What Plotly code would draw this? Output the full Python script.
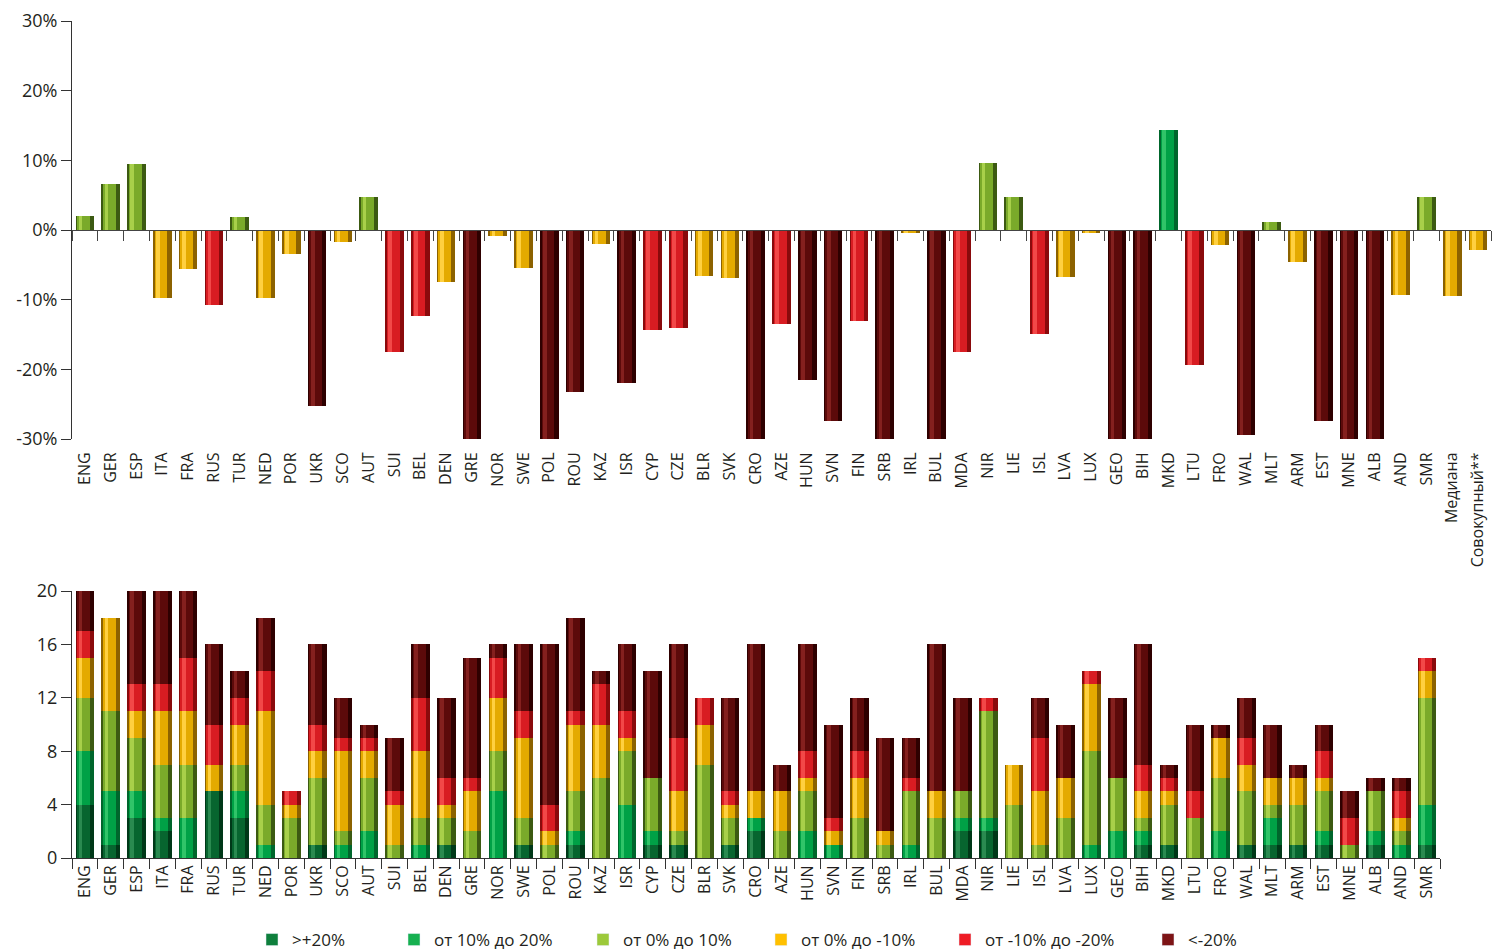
import plotly.graph_objects as go

# ---------------- data ----------------
top_labels = ["ENG", "GER", "ESP", "ITA", "FRA", "RUS", "TUR", "NED", "POR", "UKR", "SCO", "AUT",
              "SUI", "BEL", "DEN", "GRE", "NOR", "SWE", "POL", "ROU", "KAZ", "ISR", "CYP", "CZE",
              "BLR", "SVK", "CRO", "AZE", "HUN", "SVN", "FIN", "SRB", "IRL", "BUL", "MDA", "NIR",
              "LIE", "ISL", "LVA", "LUX", "GEO", "BIH", "MKD", "LTU", "FRO", "WAL", "MLT", "ARM",
              "EST", "MNE", "ALB", "AND", "SMR", "Медиана", "Совокупный**"]
top_values = [2.0, 6.6, 9.5, -9.7, -5.6, -10.7, 1.8, -9.8, -3.4, -25.3, -1.7, 4.7,
              -17.5, -12.4, -7.5, -30.0, -0.9, -5.5, -30.0, -23.2, -2.0, -22.0, -14.3, -14.1,
              -6.6, -6.9, -30.0, -13.5, -21.6, -27.4, -13.0, -30.0, -0.5, -30.0, -17.5, 9.6,
              4.8, -14.9, -6.8, -0.5, -30.0, -30.0, 14.4, -19.4, -2.1, -29.4, 1.1, -4.6,
              -27.4, -30.0, -30.0, -9.3, 4.8, -9.5, -2.9]
top_ticks = [-30, -20, -10, 0, 10, 20, 30]
top_tick_text = ["-30%", "-20%", "-10%", "0%", "10%", "20%", "30%"]

countries = top_labels[:53]
cat_names = [">+20%", "от 10% до 20%", "от 0% до 10%", "от 0% до -10%", "от -10% до -20%", "<-20%"]
cnt_gt20 = [4, 1, 3, 2, 0, 5, 3, 0, 0, 1, 0, 0, 0, 0, 1, 0, 0, 1, 0, 1, 0, 0, 1, 1,
            0, 1, 2, 0, 0, 0, 0, 0, 0, 0, 2, 2, 0, 0, 0, 0, 0, 1, 1, 0, 0, 1, 1, 1,
            1, 0, 1, 0, 1]
cnt_10_20 = [4, 4, 2, 1, 3, 0, 2, 1, 0, 0, 1, 2, 0, 1, 0, 0, 5, 0, 0, 1, 0, 4, 1, 0,
             0, 0, 1, 0, 2, 1, 0, 0, 1, 0, 1, 1, 0, 0, 0, 1, 2, 1, 0, 0, 2, 0, 2, 0,
             1, 0, 1, 1, 3]
cnt_0_10 = [4, 6, 4, 4, 4, 0, 2, 3, 3, 5, 1, 4, 1, 2, 2, 2, 3, 2, 1, 3, 6, 4, 4, 1,
            7, 2, 0, 2, 3, 0, 3, 1, 4, 3, 2, 8, 4, 1, 3, 7, 4, 1, 3, 3, 4, 4, 1, 3,
            3, 1, 3, 1, 8]
cnt_0_m10 = [3, 7, 2, 4, 4, 2, 3, 7, 1, 2, 6, 2, 3, 5, 1, 3, 4, 6, 1, 5, 4, 1, 0, 3,
             3, 1, 2, 3, 1, 1, 3, 1, 0, 2, 0, 0, 3, 4, 3, 5, 0, 2, 1, 0, 3, 2, 2, 2,
             1, 0, 0, 1, 2]
cnt_m10_m20 = [2, 0, 2, 2, 4, 3, 2, 3, 1, 2, 1, 1, 1, 4, 2, 1, 3, 2, 2, 1, 3, 2, 0, 4,
               2, 1, 0, 0, 2, 1, 2, 0, 1, 0, 0, 1, 0, 4, 0, 1, 0, 2, 1, 2, 0, 2, 0, 0,
               2, 2, 0, 2, 1]
cnt_lt20 = [3, 0, 7, 7, 5, 6, 2, 4, 0, 6, 3, 1, 4, 4, 6, 9, 1, 5, 12, 7, 1, 5, 8, 7,
            0, 7, 11, 2, 8, 7, 4, 7, 3, 11, 7, 0, 0, 3, 4, 0, 6, 9, 1, 5, 1, 3, 4, 1,
            2, 2, 1, 1, 0]
counts = [cnt_gt20, cnt_10_20, cnt_0_10, cnt_0_m10, cnt_m10_m20, cnt_lt20]
bottom_ticks = [0, 4, 8, 12, 16, 20]

# ---------------- styles ----------------
legend_colors = ["#0e7f3c", "#16b050", "#9cc93a", "#ffc000", "#ee1c25", "#7d1416"]
edge_colors = ["#003818", "#00662c", "#3c5a12", "#8c6200", "#8a0a0c", "#2e0000"]
mid_colors = ["#07652f", "#00a146", "#7aaa2a", "#e4aa00", "#d81c22", "#5c0a0a"]
hi_colors = ["#2a8a50", "#30c468", "#a8d04a", "#ffd040", "#f24848", "#84201e"]
FONT = "Open Sans"
TXT = "#231f20"


def cat_of(v):
    if v > 20:
        return 0
    if v > 10:
        return 1
    if v > 0:
        return 2
    if v >= -10:
        return 3
    if v >= -20:
        return 4
    return 5


fig = go.Figure()

# cylinder-ish layered bars
layers = [(0.72, -0.36, edge_colors), (0.50, -0.30, mid_colors), (0.14, -0.24, hi_colors)]


def add_cyl(x, y, base, cols_idx, xa, ya):
    for w, off, pal in layers:
        fig.add_trace(go.Bar(
            x=x, y=y, base=base, width=w, offset=off,
            marker=dict(color=[pal[c] for c in cols_idx], line=dict(width=0)),
            xaxis=xa, yaxis=ya, showlegend=False, hoverinfo="skip"))


# top chart
top_cats = [cat_of(v) for v in top_values]
add_cyl(top_labels, top_values, None, top_cats, "x", "y")

# invisible trace to carry the zero-line boundary-tick axis
fig.add_trace(go.Scatter(x=[0], y=[0], xaxis="x3", yaxis="y", mode="markers",
                         marker=dict(opacity=0), showlegend=False, hoverinfo="skip"))

# bottom stacked chart
running = [0] * len(countries)
for k, cnt in enumerate(counts):
    add_cyl(countries, cnt, list(running), [k] * len(countries), "x2", "y2")
    running = [a + b for a, b in zip(running, cnt)]

# legend entries
legend_x_px = [252, 394, 583, 761, 945, 1148]
for k, name in enumerate(cat_names):
    lid = "legend" if k == 0 else f"legend{k + 1}"
    fig.add_trace(go.Bar(x=[None], y=[None], name=name, marker_color=legend_colors[k],
                         xaxis="x2", yaxis="y2", showlegend=True, legend=lid))

W, H = 1493, 950


def fx(px):
    return px / W


def fy(py):
    return 1 - py / H


x0, x1_top, x1_bot = fx(72), fx(1491), fx(1440)
top_dom = [fy(439), fy(21)]
bot_dom = [fy(858), fy(591)]

tickfont = dict(family=FONT, size=16, color=TXT)
ytickfont = dict(family=FONT, size=18, color=TXT)
n_top = len(top_labels)

layout = dict(
    width=W, height=H, margin=dict(l=0, r=0, t=0, b=0, autoexpand=False),
    paper_bgcolor="white", plot_bgcolor="white",
    barmode="overlay", bargap=0,
    xaxis=dict(domain=[x0, x1_top], anchor="y", type="category", automargin=False,
               categoryorder="array", categoryarray=top_labels,
               tickangle=-90, tickfont=tickfont, showline=False, showgrid=False,
               ticks="outside", ticklen=6, tickcolor="rgba(0,0,0,0)", zeroline=False),
    xaxis3=dict(overlaying="x", anchor="free", position=(top_dom[0] + top_dom[1]) / 2,
                range=[-0.5, n_top - 0.5], tickmode="array", automargin=False,
                tickvals=[i - 0.5 for i in range(n_top + 1)],
                ticks="outside", ticklen=10, tickcolor="#444", tickwidth=1,
                showline=True, linecolor="#444", linewidth=1,
                showticklabels=False, showgrid=False, zeroline=False),
    yaxis=dict(domain=top_dom, anchor="x", range=[-30, 30], tickmode="array", automargin=False,
               tickvals=top_ticks, ticktext=top_tick_text,
               tickfont=ytickfont, showline=True, linecolor="#333", linewidth=1,
               ticks="outside", ticklen=10, tickcolor="#333", showgrid=False, zeroline=False),
    xaxis2=dict(domain=[x0, x1_bot], anchor="y2", type="category", automargin=False,
                categoryorder="array", categoryarray=countries,
                tickangle=-90, tickfont=tickfont, tickson="boundaries",
                ticks="outside", ticklen=10, tickcolor="#333",
                showline=True, linecolor="#333", linewidth=1, showgrid=False, zeroline=False),
    yaxis2=dict(domain=bot_dom, anchor="x2", range=[0, 20], tickmode="array", automargin=False,
                tickvals=bottom_ticks, ticktext=[str(t) for t in bottom_ticks],
                tickfont=ytickfont,
                showline=True, linecolor="#333", linewidth=1,
                ticks="outside", ticklen=10, tickcolor="#333", showgrid=False, zeroline=False),
)
for k in range(6):
    lid = "legend" if k == 0 else f"legend{k + 1}"
    layout[lid] = dict(x=fx(legend_x_px[k]), y=fy(940), xanchor="left", yanchor="middle",
                       xref="container", yref="container",
                       orientation="h", bgcolor="rgba(0,0,0,0)", borderwidth=0,
                       font=dict(family=FONT, size=17, color=TXT))

fig.update_layout(**layout)
fig.write_html(
    "out.html",
    config={"displayModeBar": False},
    post_script="document.body.style.margin='0';document.body.style.overflow='hidden';",
)
